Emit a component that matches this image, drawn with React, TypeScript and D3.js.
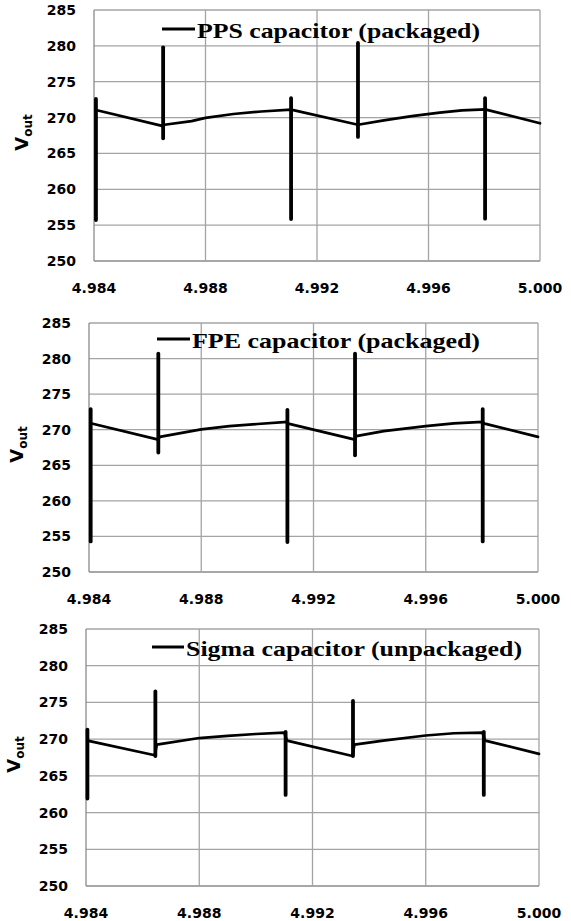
import React from "react";
import * as d3 from "d3";

// ---- data (time in s, voltage in V) ----
const xTicks = [4.984, 4.988, 4.992, 4.996, 5.0];
const yTicks = [250, 255, 260, 265, 270, 275, 280, 285];

const ppsLabel = "PPS capacitor (packaged)";
const fpeLabel = "FPE capacitor (packaged)";
const sigmaLabel = "Sigma capacitor (unpackaged)";

const ppsLine: [number, number][] = [
  [4.98407, 271.05], [4.98648, 268.8], [4.98653, 269.0], [4.9875, 269.5],
  [4.988, 269.95], [4.989, 270.5], [4.99, 270.85], [4.99107, 271.1],
  [4.99347, 269.0], [4.9944, 269.6], [4.9954, 270.2], [4.9964, 270.7],
  [4.9972, 271.0], [4.99803, 271.15], [5.0, 269.2],
];
const ppsSpikes: [number, number, number][] = [
  [4.98407, 255.7, 272.6], [4.98648, 267.1, 279.8], [4.99107, 255.85, 272.7],
  [4.99347, 267.3, 280.4], [4.99803, 255.9, 272.7],
];

const fpeLine: [number, number][] = [
  [4.98406, 270.9], [4.98647, 268.6], [4.98652, 269.0], [4.988, 270.05],
  [4.989, 270.5], [4.99, 270.8], [4.99107, 271.1], [4.9911, 270.85],
  [4.99348, 268.6], [4.99352, 269.1], [4.9945, 269.8], [4.996, 270.5],
  [4.997, 270.9], [4.99803, 271.1], [4.9981, 270.85], [5.0, 269.0],
];
const fpeSpikes: [number, number, number][] = [
  [4.98406, 254.3, 272.9], [4.98647, 266.8, 280.7], [4.99107, 254.2, 272.8],
  [4.99348, 266.4, 280.7], [4.99803, 254.3, 272.9],
];

const sigmaLine: [number, number][] = [
  [4.98405, 269.8], [4.98643, 267.8], [4.9865, 269.25], [4.988, 270.15],
  [4.989, 270.45], [4.99, 270.7], [4.991, 270.9], [4.9911, 269.8],
  [4.99341, 267.7], [4.99348, 269.25], [4.9945, 269.8], [4.996, 270.5],
  [4.997, 270.8], [4.998, 270.9], [4.9981, 269.8], [5.0, 268.0],
];
const sigmaSpikes: [number, number, number][] = [
  [4.98405, 261.9, 271.3], [4.98645, 267.7, 276.5], [4.99105, 262.4, 271.0],
  [4.99343, 267.7, 275.2], [4.99805, 262.4, 271.0],
];

// ---- layout ----
type PanelDef = {
  left: number; right: number; top: number; bottom: number;
  label: string; line: [number, number][]; spikes: [number, number, number][];
  legX1: number; legX2: number; legY: number; textX2: number;
};

const panels: PanelDef[] = [
  { left: 94, right: 540, top: 10, bottom: 261, label: ppsLabel, line: ppsLine, spikes: ppsSpikes,
    legX1: 162, legX2: 195, legY: 29, textX2: 480 },
  { left: 89, right: 538, top: 323, bottom: 572, label: fpeLabel, line: fpeLine, spikes: fpeSpikes,
    legX1: 157, legX2: 190, legY: 339, textX2: 480 },
  { left: 86, right: 539, top: 629, bottom: 886, label: sigmaLabel, line: sigmaLine, spikes: sigmaSpikes,
    legX1: 152, legX2: 184, legY: 647, textX2: 522 },
];

const fmt = d3.format(".3f");
const tickFont = "'DejaVu Sans', Verdana, sans-serif";

function Panel({ p }: { p: PanelDef }) {
  const x = d3.scaleLinear().domain([4.984, 5.0]).range([p.left, p.right]);
  const y = d3.scaleLinear().domain([250, 285]).range([p.bottom, p.top]);
  const line = d3.line<[number, number]>().x((d) => x(d[0])).y((d) => y(d[1]));
  const midY = (p.top + p.bottom) / 2 - 3;
  const textStart = p.legX2 + 2;
  return (
    <g>
      {yTicks.map((v) => (
        <line key={"gy" + v} x1={p.left} x2={p.right} y1={y(v)} y2={y(v)}
          stroke={v === 250 ? "#8a8a8a" : "#a4a4a4"} strokeWidth={1.3} />
      ))}
      {xTicks.map((v) => (
        <line key={"gx" + v} x1={x(v)} x2={x(v)} y1={p.top} y2={p.bottom}
          stroke={v === 4.984 ? "#8a8a8a" : "#a4a4a4"} strokeWidth={1.3} />
      ))}
      {yTicks.map((v) => (
        <text key={"ty" + v} x={p.left - 18} y={y(v)} dy="0.36em" textAnchor="end"
          fontFamily={tickFont} fontWeight="bold" fontSize={14} fill="#000">{v}</text>
      ))}
      {xTicks.map((v) => (
        <text key={"tx" + v} x={x(v)} y={p.bottom + 32} textAnchor="middle"
          fontFamily={tickFont} fontWeight="bold" fontSize={14} fill="#000">{fmt(v)}</text>
      ))}
      <text transform={`translate(${p.left - 66},${midY}) rotate(-90)`} textAnchor="middle"
        fontFamily={tickFont} fontWeight="bold" fill="#000">
        <tspan fontSize={18}>V</tspan>
        <tspan fontSize={12} dy={4}>out</tspan>
      </text>
      <path d={line(p.line) || ""} fill="none" stroke="#000" strokeWidth={2.7}
        strokeLinejoin="round" strokeLinecap="round" />
      {p.spikes.map((s, i) => (
        <line key={"s" + i} x1={x(s[0])} x2={x(s[0])} y1={y(s[1])} y2={y(s[2])}
          stroke="#000" strokeWidth={3.8} strokeLinecap="round" />
      ))}
      <line x1={p.legX1} x2={p.legX2} y1={p.legY} y2={p.legY} stroke="#000" strokeWidth={3} />
      <text x={textStart} y={p.legY + 9} fontFamily="'Liberation Serif', 'Times New Roman', serif"
        fontWeight="bold" fontSize={21} fill="#000"
        textLength={p.textX2 - textStart} lengthAdjust="spacingAndGlyphs">{p.label}</text>
    </g>
  );
}

export default function App() {
  return (
    <svg width={571} height={921} viewBox="0 0 571 921"
      style={{ position: "absolute", left: 0, top: 0, background: "#fff" }}>
      <rect x={0} y={0} width={571} height={921} fill="#fff" />
      {panels.map((p, i) => <Panel key={i} p={p} />)}
    </svg>
  );
}
